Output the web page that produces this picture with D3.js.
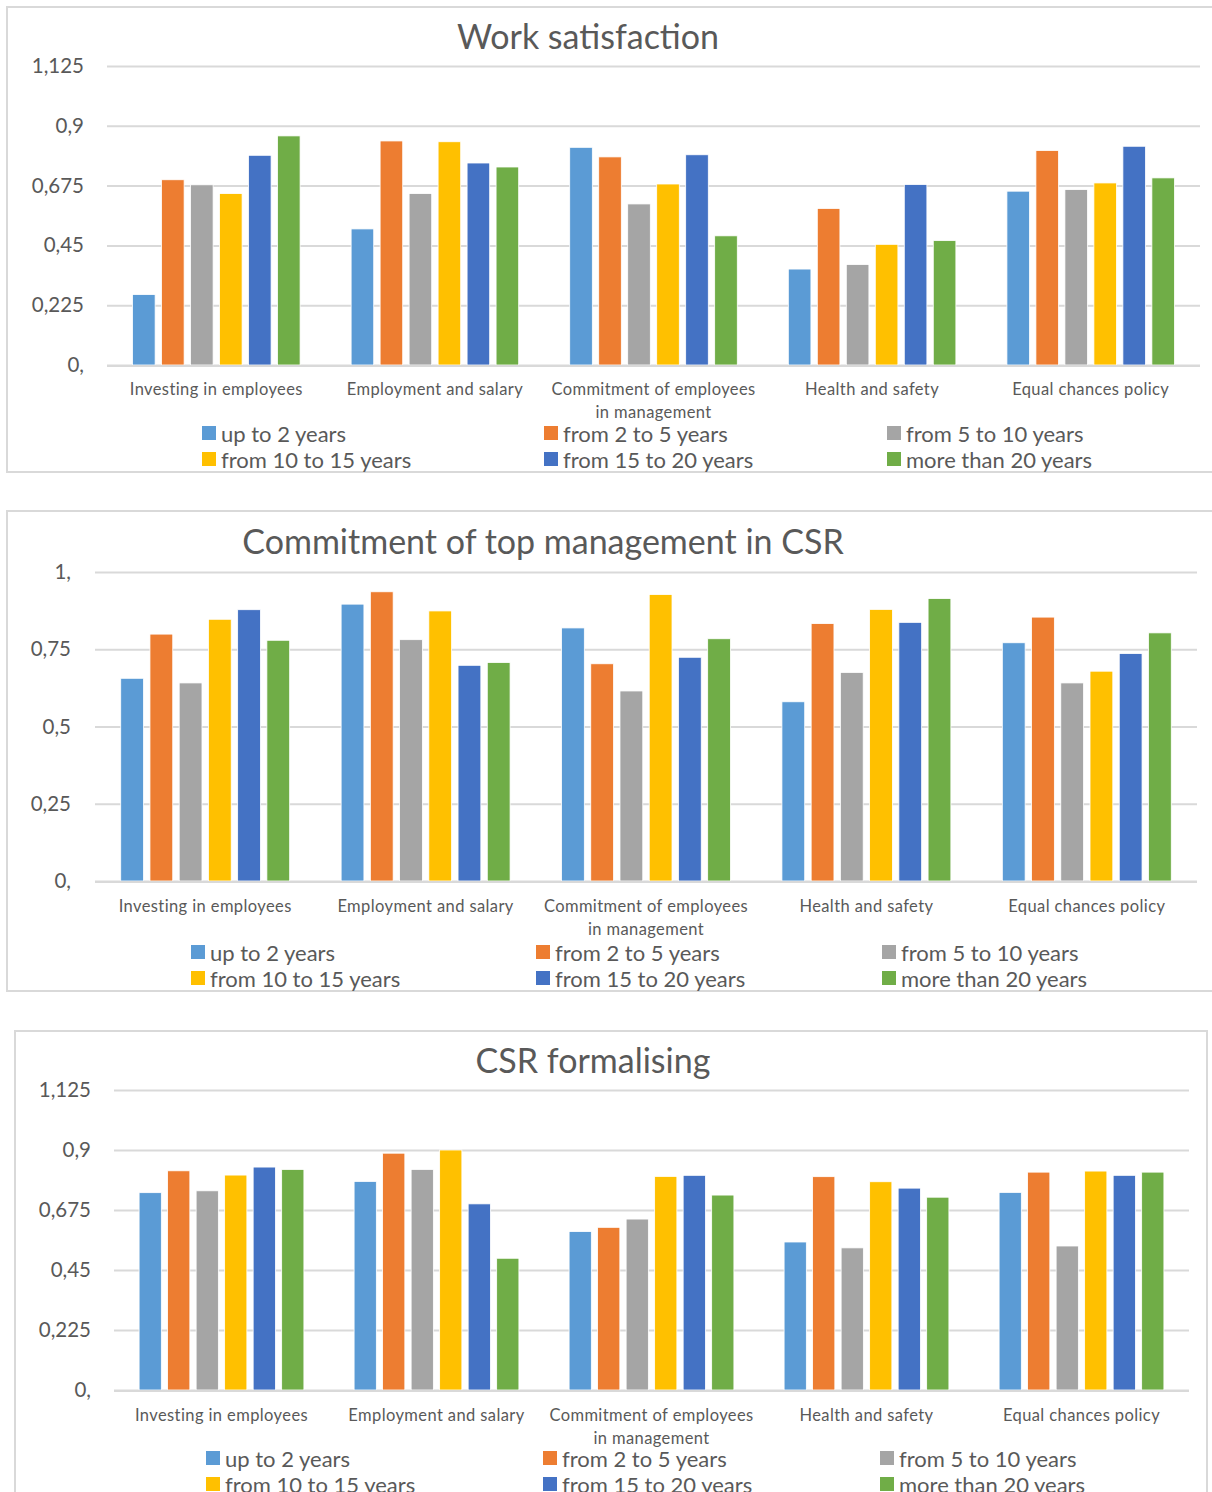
<!DOCTYPE html>
<html>
<head>
<meta charset="utf-8">
<script src="https://cdn.jsdelivr.net/npm/d3@7"></script>
<style>
  html, body { margin: 0; padding: 0; background: #fff; }
  svg { display: block; font-family: Lato, "Open Sans", sans-serif; }
</style>
</head>
<body>
<svg id="page" width="1212" height="1492"></svg>
<script>
// Aspects of CSR, evaluated by length of employment
const categories = [
  "Investing in employees",
  "Employment and salary",
  "Commitment of employees in management",
  "Health and safety",
  "Equal chances policy"
];
const seriesNames = [
  "up to 2 years", "from 2 to 5 years", "from 5 to 10 years",
  "from 10 to 15 years", "from 15 to 20 years", "more than 20 years"
];
const seriesColors = ["#5B9BD5", "#ED7D31", "#A5A5A5", "#FFC000", "#4472C4", "#70AD47"];

// One row per series, one value per category
const workSatisfaction = [
  [0.265, 0.512, 0.819, 0.361, 0.654],
  [0.697, 0.843, 0.783, 0.589, 0.807],
  [0.678, 0.645, 0.606, 0.378, 0.660],
  [0.645, 0.840, 0.681, 0.454, 0.685],
  [0.789, 0.760, 0.791, 0.679, 0.823],
  [0.862, 0.745, 0.486, 0.468, 0.704]
];
const topManagementCommitment = [
  [0.656, 0.896, 0.819, 0.580, 0.771],
  [0.799, 0.936, 0.703, 0.833, 0.854],
  [0.641, 0.781, 0.615, 0.675, 0.641],
  [0.847, 0.874, 0.927, 0.879, 0.679],
  [0.878, 0.698, 0.724, 0.837, 0.736],
  [0.779, 0.707, 0.784, 0.914, 0.803]
];
const csrFormalising = [
  [0.740, 0.782, 0.594, 0.555, 0.741],
  [0.822, 0.888, 0.610, 0.800, 0.817],
  [0.747, 0.827, 0.641, 0.533, 0.540],
  [0.806, 0.900, 0.801, 0.781, 0.821],
  [0.836, 0.698, 0.805, 0.757, 0.805],
  [0.827, 0.494, 0.731, 0.723, 0.817]
];

const ticksA = [0, 0.225, 0.45, 0.675, 0.9, 1.125];
const tickLabelsA = ["0,", "0,225", "0,45", "0,675", "0,9", "1,125"];
const ticksB = [0, 0.25, 0.5, 0.75, 1];
const tickLabelsB = ["0,", "0,25", "0,5", "0,75", "1,"];

const TEXT = "#595959";
const GRID = "#D9D9D9";

const svg = d3.select("#page");
svg.append("rect").attr("width", 1212).attr("height", 1492).attr("fill", "#fff");

function wrapLines(textSel, str, maxWidth) {
  const words = str.split(" ");
  const lines = [];
  let cur = [];
  const probe = textSel.append("tspan");
  words.forEach(w => {
    const trial = cur.concat([w]).join(" ");
    probe.text(trial);
    if (cur.length && probe.node().getComputedTextLength() > maxWidth) {
      lines.push(cur.join(" "));
      cur = [w];
    } else {
      cur.push(w);
    }
  });
  lines.push(cur.join(" "));
  probe.remove();
  return lines;
}

function drawChart(cfg) {
  const g = svg.append("g");

  // outer frame
  g.append("rect")
    .attr("x", cfg.frame.x).attr("y", cfg.frame.y)
    .attr("width", cfg.frame.w).attr("height", cfg.frame.h)
    .attr("fill", "#fff").attr("stroke", GRID).attr("stroke-width", 2);

  const x0 = d3.scaleBand().domain(categories)
    .range([cfg.plot.left, cfg.plot.right]).padding(0);
  const x1 = d3.scaleBand().domain(d3.range(seriesNames.length))
    .range([0, x0.bandwidth()]).paddingInner(0.22).paddingOuter(0.88);
  const y = d3.scaleLinear().domain([0, cfg.yMax])
    .range([cfg.plot.bottom, cfg.plot.top]);

  // gridlines
  const grid = g.append("g")
    .attr("transform", `translate(${cfg.plot.left},0)`)
    .call(d3.axisLeft(y).tickValues(cfg.ticks)
      .tickSize(-(cfg.plot.right - cfg.plot.left)).tickFormat(""));
  grid.select(".domain").remove();
  grid.selectAll("line").attr("stroke", GRID).attr("stroke-width", 2);

  // value labels
  const yAxis = g.append("g")
    .attr("transform", `translate(${cfg.tickRight},0)`)
    .call(d3.axisLeft(y).tickValues(cfg.ticks).tickSize(0).tickPadding(0)
      .tickFormat((d, i) => cfg.tickLabels[i]));
  yAxis.select(".domain").remove();
  yAxis.selectAll("text")
    .attr("fill", TEXT).style("font-size", "20.5px")
    .style("font-family", "Lato, sans-serif");

  // bars
  const groups = g.append("g").selectAll("g")
    .data(categories).join("g")
    .attr("transform", d => `translate(${x0(d)},0)`);
  groups.selectAll("rect")
    .data((c, ci) => cfg.values.map((row, si) => ({ si, v: row[ci] })))
    .join("rect")
    .attr("x", d => x1(d.si))
    .attr("width", x1.bandwidth())
    .attr("y", d => y(d.v))
    .attr("height", d => y(0) - y(d.v))
    .attr("fill", d => seriesColors[d.si])
    .attr("stroke", "#fff").attr("stroke-width", 0.8);

  // zero line on top of bar bottoms
  g.append("line")
    .attr("x1", cfg.plot.left).attr("x2", cfg.plot.right)
    .attr("y1", y(0) + 1).attr("y2", y(0) + 1)
    .attr("stroke", GRID).attr("stroke-width", 2);

  // category labels
  categories.forEach(c => {
    const t = g.append("text")
      .attr("text-anchor", "middle")
      .attr("fill", TEXT).style("font-size", "16.5px")
      .style("letter-spacing", "0.4px");
    const lines = wrapLines(t, c, x0.bandwidth() - 6);
    lines.forEach((ln, i) => {
      t.append("tspan")
        .attr("x", x0(c) + x0.bandwidth() / 2)
        .attr("y", cfg.catY + i * 23)
        .attr("dominant-baseline", "central")
        .text(ln);
    });
  });

  // title
  g.append("text")
    .attr("x", cfg.title.x).attr("y", cfg.title.y)
    .attr("text-anchor", "middle").attr("dominant-baseline", "central")
    .attr("fill", TEXT).style("font-size", "34px")
    .text(cfg.titleText);

  // legend
  seriesNames.forEach((name, i) => {
    const col = i % 3, row = Math.floor(i / 3);
    const lx = cfg.legendX[col], ly = cfg.legendRows[row];
    g.append("rect")
      .attr("x", lx).attr("y", ly - 7)
      .attr("width", 14).attr("height", 14)
      .attr("fill", seriesColors[i]);
    g.append("text")
      .attr("x", lx + 19).attr("y", ly)
      .attr("dominant-baseline", "central")
      .attr("fill", TEXT).style("font-size", "22px")
      .text(name);
  });
}

drawChart({
  titleText: "Work satisfaction",
  values: workSatisfaction,
  yMax: 1.125, ticks: ticksA, tickLabels: tickLabelsA,
  frame: { x: 7, y: 7, w: 1215, h: 465 },
  plot: { left: 107, right: 1200, top: 66, bottom: 365 },
  tickRight: 84,
  title: { x: 588, y: 35 },
  catY: 389,
  legendRows: [433, 459],
  legendX: [202, 544, 887]
});

drawChart({
  titleText: "Commitment of top management in CSR",
  values: topManagementCommitment,
  yMax: 1, ticks: ticksB, tickLabels: tickLabelsB,
  frame: { x: 7, y: 511, w: 1215, h: 480 },
  plot: { left: 95, right: 1197, top: 572, bottom: 881 },
  tickRight: 71,
  title: { x: 543, y: 540 },
  catY: 906,
  legendRows: [952, 978],
  legendX: [191, 536, 882]
});

drawChart({
  titleText: "CSR formalising",
  values: csrFormalising,
  yMax: 1.125, ticks: ticksA, tickLabels: tickLabelsA,
  frame: { x: 15, y: 1031, w: 1192, h: 500 },
  plot: { left: 114, right: 1189, top: 1090, bottom: 1390 },
  tickRight: 91,
  title: { x: 593, y: 1059 },
  catY: 1415,
  legendRows: [1458, 1484],
  legendX: [206, 543, 880]
});
</script>
</body>
</html>
